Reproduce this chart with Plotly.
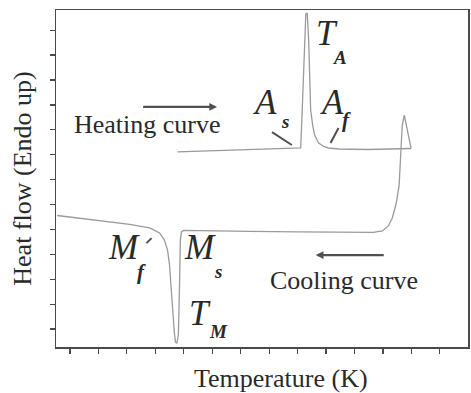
import plotly.graph_objects as go

# ---- data (temperature in arbitrary units, heat flow in arbitrary units) ----
heat_T = [37.8, 52.4, 62.9, 78.7, 81.1, 81.5, 82.0, 82.5, 82.9, 83.4, 83.9, 84.3,
          84.6, 85.3, 86.0, 87.4, 89.2, 90.9, 94.4, 104.9, 115.4, 119.9]
heat_Q = [7.11, 7.17, 7.21, 7.25, 7.27, 8.39, 10.0, 11.61, 12.65, 12.69, 11.61, 10.0,
          8.80, 8.19, 7.79, 7.47, 7.33, 7.27, 7.23, 7.21, 7.23, 7.25]

cool_T = [119.9, 117.5, 116.8, 116.3, 115.7, 114.7, 113.3, 111.9, 109.8, 106.6, 94.4,
          80.4, 62.9, 45.5, 39.9, 39.2, 38.8, 38.5, 38.1, 37.6, 37.1, 36.7, 36.0,
          35.3, 35.0, 34.3, 33.2, 31.5, 28.0, 21.0, 10.5, 3.5, -4.5]
cool_Q = [7.25, 8.59, 8.19, 6.79, 5.78, 5.06, 4.46, 4.14, 3.94, 3.88, 3.88,
          3.90, 3.92, 3.94, 3.96, 3.90, 3.57, 1.69, -0.24, -0.56, -0.52, -0.16, 1.04,
          2.05, 2.57, 3.17, 3.57, 3.86, 4.06, 4.20, 4.34, 4.44, 4.56]

x_title = "Temperature (K)"
y_title = "Heat flow (Endo up)"
heating_label = "Heating curve"
cooling_label = "Cooling curve"

CURVE = "#9a9a9a"
INK = "#2a2a2a"
FRAME = "#4a4a4a"
SERIF = "Liberation Serif, Times New Roman, serif"

fig = go.Figure()
fig.add_trace(go.Scatter(x=heat_T, y=heat_Q, mode="lines", name="Heating",
                         line=dict(color=CURVE, width=1.3), showlegend=False,
                         hoverinfo="skip"))
fig.add_trace(go.Scatter(x=cool_T, y=cool_Q, mode="lines", name="Cooling",
                         line=dict(color=CURVE, width=1.3), showlegend=False,
                         hoverinfo="skip"))

ann = []
def label(x, y, text, size, bold=False):
    t = f"<i>{text}</i>"
    if bold:
        t = f"<b>{t}</b>"
    ann.append(dict(x=x, y=y, xref="x", yref="y", text=t, showarrow=False,
                    xanchor="center", yanchor="middle",
                    font=dict(family=SERIF, size=size, color=INK)))

BIG = 35
SUB = 19
# T_A
label(90.2, 11.85, "T", BIG); label(94.8, 10.92, "A", SUB, True)
# A_s
label(68.5, 9.08, "A", BIG); label(75.5, 8.35, "s", SUB, True)
# A_f
label(92.0, 9.08, "A", BIG); label(97.2, 8.39, "f", SUB + 2, True)
# M_f
label(18.9, 3.27, "M", BIG); label(25.0, 2.30, "f", SUB + 2, True)
# M_s
label(45.8, 3.27, "M", BIG); label(52.1, 2.33, "s", SUB, True)
# T_M
label(45.8, 0.62, "T", BIG); label(52.1, -0.10, "M", SUB, True)

# curve labels
ann.append(dict(x=27.3, y=8.23, xref="x", yref="y", text=heating_label, showarrow=False,
                font=dict(family=SERIF, size=26, color=INK)))
ann.append(dict(x=96.2, y=1.97, xref="x", yref="y", text=cooling_label, showarrow=False,
                font=dict(family=SERIF, size=26, color=INK)))
# direction arrows
ann.append(dict(x=51.7, y=8.92, ax=25.2, ay=8.92, xref="x", yref="y", axref="x", ayref="y",
                text="", showarrow=True, arrowhead=2, arrowsize=0.7, arrowwidth=2.2,
                arrowcolor="#505050"))
ann.append(dict(x=86.4, y=2.97, ax=110.8, ay=2.97, xref="x", yref="y", axref="x", ayref="y",
                text="", showarrow=True, arrowhead=2, arrowsize=0.7, arrowwidth=2.2,
                arrowcolor="#505050"))

# axis titles
ann.append(dict(x=0.546, y=-0.092, xref="paper", yref="paper", text=x_title, showarrow=False,
                xanchor="center", yanchor="middle",
                font=dict(family=SERIF, size=26, color=INK)))
ann.append(dict(x=-0.082, y=0.5, xref="paper", yref="paper", text=y_title, showarrow=False,
                textangle=-90, xanchor="center", yanchor="middle",
                font=dict(family=SERIF, size=26, color=INK)))

shapes = [
    dict(type="line", xref="x", yref="y", x0=71.0, y0=7.91, x1=78.0, y1=7.39,
         line=dict(color="#505050", width=2)),
    dict(type="line", xref="x", yref="y", x0=91.6, y0=7.47, x1=94.4, y1=8.07,
         line=dict(color="#505050", width=2)),
    dict(type="line", xref="x", yref="y", x0=26.9, y0=3.45, x1=28.7, y1=3.65,
         line=dict(color="#505050", width=2)),
]

fig.update_layout(
    width=471, height=393,
    margin=dict(l=56, r=1, t=10, b=46),
    paper_bgcolor="white", plot_bgcolor="white",
    annotations=ann, shapes=shapes,
    xaxis=dict(range=[-4.9, 139.9], showgrid=False, zeroline=False,
               showline=True, linecolor=FRAME, linewidth=1.5, mirror=True,
               ticks="outside", ticklen=5, tickwidth=1.2, tickcolor=FRAME,
               tick0=0, dtick=10, showticklabels=False),
    yaxis=dict(range=[-0.72, 12.81], showgrid=False, zeroline=False,
               showline=True, linecolor=FRAME, linewidth=1.5, mirror=True,
               ticks="outside", ticklen=5, tickwidth=1.2, tickcolor=FRAME,
               tick0=0, dtick=1, showticklabels=False),
)

fig.write_html("out.html",
               config={"displayModeBar": False, "staticPlot": True},
               post_script="document.body.style.margin='0';document.body.style.overflow='hidden';")
